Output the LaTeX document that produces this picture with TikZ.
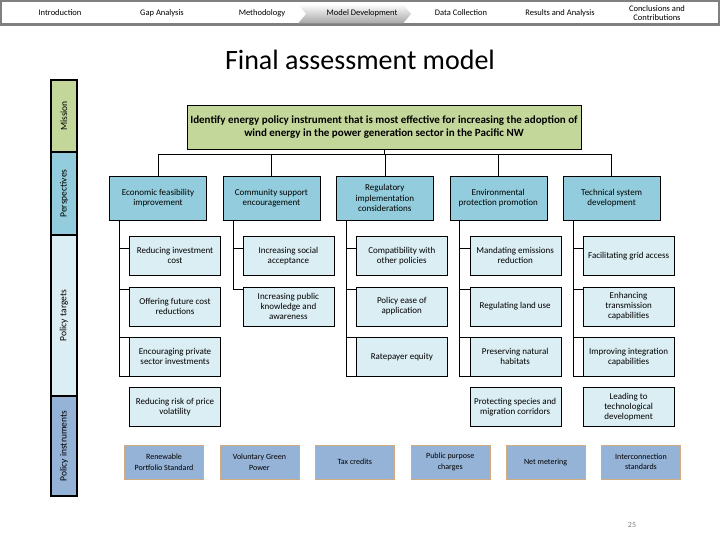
\documentclass[tikz,border=0pt]{standalone}
\usepackage{fontspec}
\setmainfont{Carlito}
\usetikzlibrary{positioning}
\definecolor{missiongreen}{HTML}{C4D79B}
\definecolor{perspblue}{HTML}{93CDDD}
\definecolor{targetblue}{HTML}{DBEEF4}
\definecolor{instrblue}{HTML}{95B3D7}
\definecolor{instrrim}{HTML}{D2AC80}
\definecolor{navgray}{HTML}{808080}

\begin{document}
\begin{tikzpicture}[x=1pt,y=-1pt,node distance=11pt and 16pt,
  persp/.style={draw,fill=perspblue,minimum width=97pt,minimum height=44pt,align=center,inner sep=1pt,font=\fontsize{9}{10.5}\selectfont},
  target/.style={draw,fill=targetblue,minimum width=91pt,minimum height=39pt,align=center,inner sep=1pt,font=\fontsize{9}{10}\selectfont},
  instr/.style={draw=instrrim,fill=instrblue,minimum width=79pt,minimum height=34pt,align=center,inner sep=1pt,font=\fontsize{8}{10.5}\selectfont},
  band/.style={draw,line width=2pt,rotate=90,minimum height=26pt,inner sep=0pt,font=\fontsize{9.5}{10}\selectfont},
  navlabel/.style={font=\fontsize{8.5}{9.5}\selectfont,align=center}]
\useasboundingbox (0,0) rectangle (720,540);

% navigation bar
\draw[navgray,line width=2.5pt] (1,1) rectangle (719,25);
\draw[navgray,line width=3pt] (0,25) -- (720,25);
\shade[top color=white,bottom color=gray!70] (298,4) -- (403,4) -- (411,14) -- (403,23.5) -- (298,23.5) -- (306,14) -- cycle;
\foreach \x/\lbl [count=\i] in {60/Introduction,162/Gap Analysis,262/Methodology,362/Model Development,461/Data Collection,560/Results and Analysis,657/{Conclusions and\\Contributions}}
  \node[navlabel] (nav\i) at (\x,13) {\lbl};

\node[font=\fontsize{28}{30}\selectfont] (title) at (360,60) {Final assessment model};

% left bands
\node[band,fill=missiongreen,minimum width=72pt] (mband) at (64,116) {Mission};
\node[band,fill=perspblue,minimum width=83pt] (pband) at (64,193.5) {Perspectives};
\node[band,fill=targetblue,minimum width=161pt] (tband) at (64,315.5) {Policy targets};
\node[band,fill=instrblue,minimum width=100pt] (iband) at (64,446) {Policy instruments};

% mission
\node[draw,fill=missiongreen,minimum width=394pt,minimum height=44pt,align=center,font=\bfseries\fontsize{11}{13.5}\selectfont] (mission) at (384,127)
  {Identify energy policy instrument that is most effective for increasing the adoption of\\wind energy in the power generation sector in the Pacific NW};

% perspectives
\node[persp] (econ) at (158,198) {Economic feasibility\\improvement};
\node[persp,right=of econ] (comm) {Community support\\encouragement};
\node[persp,right=of comm] (reg) {Regulatory\\implementation\\considerations};
\node[persp,right=of reg] (env) {Environmental\\protection promotion};
\node[persp,right=of env] (tech) {Technical system\\development};

\coordinate (bar) at ([yshift=-5pt]mission.south);
\draw (mission.south) -- (bar);
\foreach \p in {econ,comm,reg,env,tech}
  \draw (bar) -| (\p.north);

% policy targets
\node[target,below=16pt of econ.south,xshift=17pt] (econ1) {Reducing investment\\cost};
\node[target,below=of econ1] (econ2) {Offering future cost\\reductions};
\node[target,below=of econ2] (econ3) {Encouraging private\\sector investments};
\node[target,below=of econ3] (econ4) {Reducing risk of price\\volatility};

\node[target,below=16pt of comm.south,xshift=17pt] (comm1) {Increasing social\\acceptance};
\node[target,below=of comm1] (comm2) {Increasing public\\knowledge and\\awareness};

\node[target,below=16pt of reg.south,xshift=17pt] (reg1) {Compatibility with\\other policies};
\node[target,below=of reg1] (reg2) {Policy ease of\\application};
\node[target,below=of reg2] (reg3) {Ratepayer equity};

\node[target,below=16pt of env.south,xshift=17pt] (env1) {Mandating emissions\\reduction};
\node[target,below=of env1] (env2) {Regulating land use};
\node[target,below=of env2] (env3) {Preserving natural\\habitats};
\node[target,below=of env3] (env4) {Protecting species and\\migration corridors};

\node[target,below=16pt of tech.south,xshift=17pt] (tech1) {Facilitating grid access};
\node[target,below=of tech1] (tech2) {Enhancing\\transmission\\capabilities};
\node[target,below=of tech2] (tech3) {Improving integration\\capabilities};
\node[target,below=of tech3] (tech4) {Leading to\\technological\\development};

\foreach \p in {econ,comm,reg,env,tech}{
  \coordinate (\p-s) at ([xshift=10pt]\p.south west);
  \draw (\p-s |- \p1.170) -- (\p1.170);
  \draw (\p-s |- \p2.160) -- (\p2.160);
}
\foreach \p in {econ,reg,env,tech}{
  \draw (\p-s) |- (\p3.south west);
  \draw (\p-s |- \p3.north west) -- (\p3.north west);
}
\draw (comm-s) |- (comm2.160);

% policy instruments
\node[instr] (rps) at (164,462) {Renewable\\Portfolio Standard};
\node[instr,right=of rps] (green) {Voluntary Green\\Power};
\node[instr,right=of green] (tax) {Tax credits};
\node[instr,right=of tax] (ppc) {Public purpose\\charges};
\node[instr,right=of ppc] (net) {Net metering};
\node[instr,right=of net] (inter) {Interconnection\\standards};

\node[font=\fontsize{8}{9}\selectfont,text=gray] (pagenum) at (632,525) {25};
\end{tikzpicture}
\end{document}
